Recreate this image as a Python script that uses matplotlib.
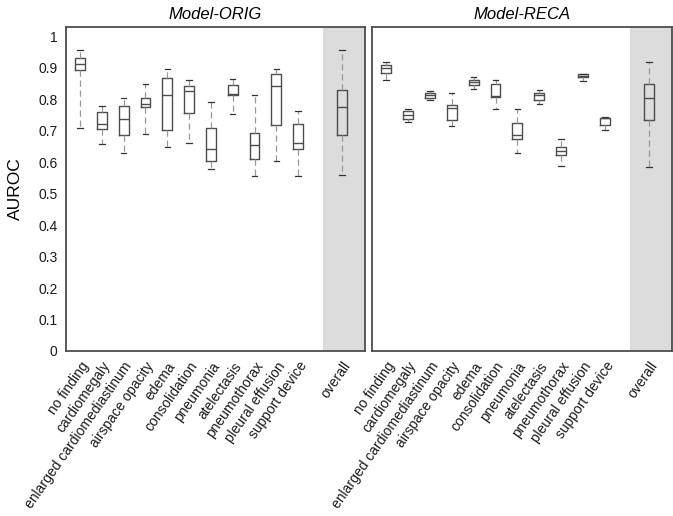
import matplotlib
matplotlib.use("Agg")
import matplotlib.pyplot as plt

plt.rcParams["font.family"] = ["Liberation Sans", "DejaVu Sans"]

categories = [
    "no finding", "cardiomegaly", "enlarged cardiomediastinum", "airspace opacity",
    "edema", "consolidation", "pneumonia", "atelectasis", "pneumothorax",
    "pleural effusion", "support device",
]
overall_label = "overall"
panel_titles = ["Model-ORIG", "Model-RECA"]

# per category: lower whisker, q1, median, q3, upper whisker
orig_low = [0.709, 0.659, 0.631, 0.690, 0.648, 0.662, 0.580, 0.753, 0.557, 0.605, 0.557]
orig_q1 = [0.894, 0.705, 0.687, 0.775, 0.704, 0.758, 0.605, 0.813, 0.609, 0.720, 0.643]
orig_med = [0.912, 0.723, 0.737, 0.784, 0.815, 0.825, 0.641, 0.817, 0.655, 0.844, 0.660]
orig_q3 = [0.931, 0.760, 0.778, 0.804, 0.868, 0.842, 0.710, 0.847, 0.693, 0.881, 0.723]
orig_high = [0.956, 0.779, 0.804, 0.850, 0.897, 0.862, 0.790, 0.866, 0.815, 0.897, 0.764]
orig_overall = [0.561, 0.687, 0.775, 0.829, 0.958]

reca_low = [0.862, 0.729, 0.797, 0.714, 0.832, 0.768, 0.628, 0.784, 0.587, 0.857, 0.704]
reca_q1 = [0.885, 0.737, 0.804, 0.735, 0.845, 0.808, 0.675, 0.799, 0.624, 0.870, 0.717]
reca_med = [0.899, 0.750, 0.813, 0.772, 0.854, 0.810, 0.687, 0.813, 0.636, 0.875, 0.740]
reca_q3 = [0.910, 0.762, 0.820, 0.783, 0.862, 0.850, 0.726, 0.820, 0.649, 0.879, 0.742]
reca_high = [0.918, 0.769, 0.826, 0.821, 0.871, 0.862, 0.770, 0.829, 0.673, 0.882, 0.744]
reca_overall = [0.584, 0.735, 0.804, 0.850, 0.920]

y_ticks = [0, 0.1, 0.2, 0.3, 0.4, 0.5, 0.6, 0.7, 0.8, 0.9, 1]
y_tick_labels = ["0", "0.1", "0.2", "0.3", "0.4", "0.5", "0.6", "0.7", "0.8", "0.9", "1"]


def make_stats(low, q1, med, q3, high, overall):
    stats = []
    for lo, a, m, b, hi in zip(low, q1, med, q3, high):
        stats.append({"whislo": lo, "q1": a, "med": m, "q3": b, "whishi": hi, "fliers": []})
    lo, a, m, b, hi = overall
    stats.append({"whislo": lo, "q1": a, "med": m, "q3": b, "whishi": hi, "fliers": []})
    return stats


panels = [
    make_stats(orig_low, orig_q1, orig_med, orig_q3, orig_high, orig_overall),
    make_stats(reca_low, reca_q1, reca_med, reca_q3, reca_high, reca_overall),
]

positions = list(range(1, len(categories) + 1)) + [len(categories) + 2]
labels = categories + [overall_label]

fig = plt.figure(figsize=(6.73, 5.16), dpi=100)
W, H = 673, 516
axes_px = [(66, 27, 299, 324), (372, 27, 300, 324)]

for i, (stats, (x0, y0, w, h)) in enumerate(zip(panels, axes_px)):
    ax = fig.add_axes([x0 / W, 1 - (y0 + h) / H, w / W, h / H])
    ax.axvspan(12.15, 14.2, color="#dcdcdd", zorder=0, lw=0)
    ax.bxp(
        stats,
        positions=positions,
        widths=0.45,
        capwidths=0.25,
        showfliers=False,
        boxprops=dict(color="0.3", linewidth=1.0),
        medianprops=dict(color="0.3", linewidth=1.0),
        whiskerprops=dict(color="0.6", linewidth=0.9, linestyle=(0, (5, 3))),
        capprops=dict(color="0.2", linewidth=0.9),
    )
    ax.set_xlim(0.36, 14.06)
    ax.set_ylim(0, 1.03)
    ax.set_yticks(y_ticks)
    if i == 0:
        ax.set_yticklabels(y_tick_labels, fontsize=10, color="0.1")
        ax.set_ylabel("AUROC", fontsize=12.5, labelpad=11)
    else:
        ax.set_yticklabels([])
    ax.set_xticks(positions)
    ax.set_xticklabels(labels, rotation=55, ha="right", va="top",
                       rotation_mode="anchor", fontsize=10, color="0.1")
    ax.tick_params(length=0, pad=6)
    for s in ax.spines.values():
        s.set_color("0.3")
        s.set_linewidth(1.3)
    ax.set_title(panel_titles[i], fontsize=12, style="italic", pad=6)

fig.savefig("out.png", dpi=100)
